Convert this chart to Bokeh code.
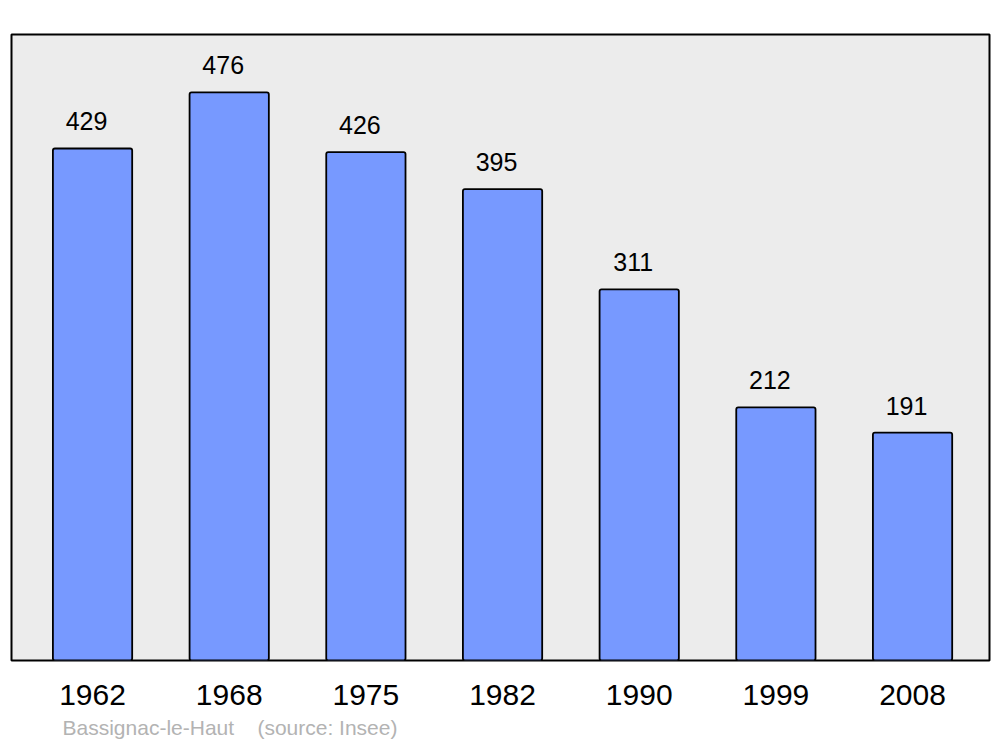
from bokeh.plotting import figure
from bokeh.models import Range1d, FixedTicker, Title, ColumnDataSource
from bokeh.embed import file_html
from bokeh.resources import INLINE
from bokeh.core.properties import value

years = ["1962", "1968", "1975", "1982", "1990", "1999", "2008"]
population = [429, 476, 426, 395, 311, 212, 191]
commune = "Bassignac-le-Haut"
source_note = "(source: Insee)"

idx = list(range(len(years)))
src = ColumnDataSource(dict(x=idx, y=population, label=[str(v) for v in population]))

FONT = "Liberation Sans"

p = figure(width=1000, height=747, output_backend="svg", toolbar_location=None,
           x_range=Range1d(-0.593, 6.563), y_range=Range1d(0, 524.5),
           y_axis_location=None, x_axis_location="below",
           min_border_left=11, min_border_right=11, min_border_top=34, min_border_bottom=87)

p.background_fill_color = "#ececec"
p.border_fill_color = "white"
p.outline_line_color = "black"
p.outline_line_width = 2
p.xgrid.grid_line_color = None
p.ygrid.grid_line_color = None

p.vbar(x="x", top="y", bottom=0, width=0.58, source=src,
       fill_color="#7799ff", line_color="black", line_width=1.8, border_radius=2)

p.text(x="x", y="y", text="label", source=src, text_align="center",
       text_baseline="alphabetic", x_offset=-6, y_offset=-27, text_font=value(FONT),
       text_font_size="25px", text_color="black")

ax = p.xaxis[0]
ax.ticker = FixedTicker(ticks=idx)
ax.major_label_overrides = {i: y for i, y in zip(idx, years)}
ax.axis_line_color = None
ax.major_tick_line_color = None
ax.minor_tick_line_color = None
ax.major_tick_out = 0
ax.major_tick_in = 0
ax.major_label_standoff = 24
ax.major_label_text_font = FONT
ax.major_label_text_font_size = "30px"
ax.major_label_text_color = "black"

caption = Title(text=commune + "\u00a0\u00a0\u00a0\u00a0" + source_note,
                align="left", offset=51, standoff=12,
                text_font=FONT, text_font_size="21px", text_font_style="normal",
                text_color="#b3b3b3")
p.add_layout(caption, "below")

open("out.html", "w").write(file_html(p, INLINE))
